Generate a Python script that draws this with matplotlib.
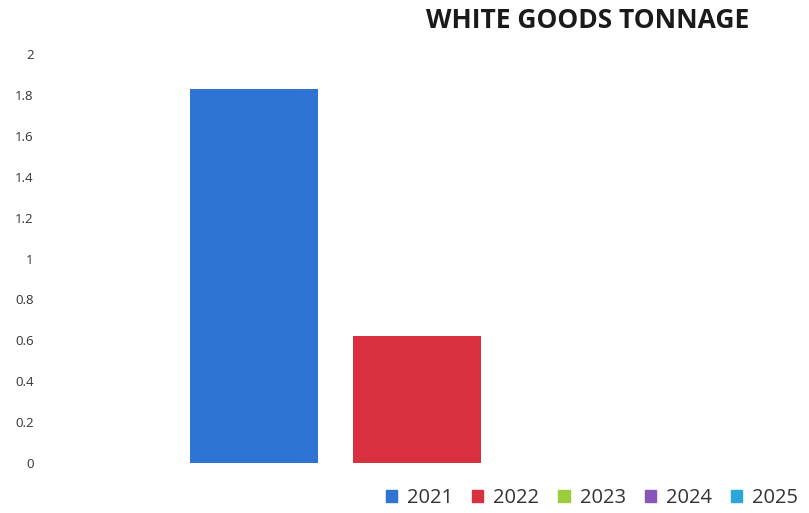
import numpy as np
import matplotlib.pyplot as plt

# tonnage per year
years = ["2021", "2022", "2023", "2024", "2025"]
tonnage = [1.83, 0.62, 0, 0, 0]
colors = ["#2f74d2", "#d8303f", "#9ccc3c", "#8a55b8", "#2aa6dc"]
yticks = [0, 0.2, 0.4, 0.6, 0.8, 1, 1.2, 1.4, 1.6, 1.8, 2]

plt.rcParams['font.family'] = ['Open Sans', 'DejaVu Sans']

fig = plt.figure(figsize=(8.09, 5.13), dpi=100)
ax = fig.add_axes([60/809, (513-463)/513, 1-60/809, (463-54)/513])

x = np.arange(len(years))
for i in range(len(years)):
    ax.bar(x[i], tonnage[i], width=0.785, color=colors[i], label=years[i])

ax.set_xlim(-1.19, 3.40)
ax.set_ylim(0, 2)
ax.set_yticks(yticks)
ax.set_yticklabels([("%g" % t) for t in yticks], fontsize=9.5, color="#333333")
ax.tick_params(axis="y", length=0, pad=19)
ax.set_xticks([])
for s in ax.spines.values():
    s.set_visible(False)

fig.text(588/809, 1-20/513, "WHITE GOODS TONNAGE", ha="center", va="center",
         fontsize=19, fontweight="bold", color="#1a1a1a")

handles = [plt.Rectangle((0, 0), 1, 1, color=c) for c in colors]
fig.legend(handles, years, loc="center", bbox_to_anchor=(592/809, 1-498/513),
           ncol=5, frameon=False, fontsize=14.5, handlelength=0.55, handleheight=0.55,
           handletextpad=0.5, columnspacing=0.95, labelcolor="#333333")

fig.savefig("out.png", dpi=100)
